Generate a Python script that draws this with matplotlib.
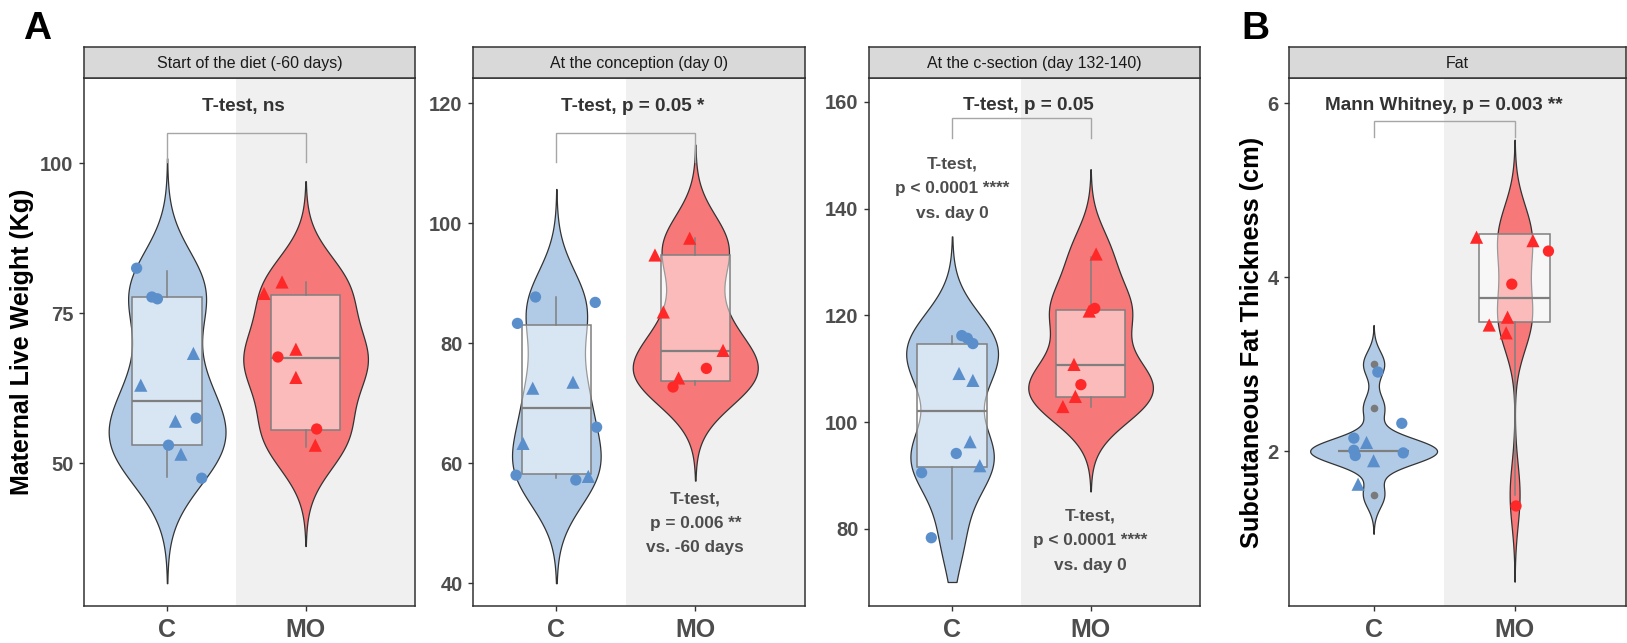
import numpy as np
import matplotlib
matplotlib.use("Agg")
import matplotlib.pyplot as plt

plt.rcParams['font.family'] = ['Liberation Sans', 'DejaVu Sans']

W, H, DPI = 1627, 643, 100

categories = ['C', 'MO']

# ---------------- Panel A1 : Start of the diet (-60 days)
start_c_vals = [82.5, 77.7, 77.4, 68.3, 63.0, 57.0, 57.5, 53.0, 51.5, 47.5]
start_c_shape = ['o', 'o', 'o', '^', '^', '^', 'o', 'o', '^', 'o']
start_c_jit = [-0.22, -0.11, -0.07, 0.19, -0.19, 0.06, 0.21, 0.01, 0.10, 0.25]
start_mo_vals = [80.2, 78.3, 69.0, 67.7, 64.3, 55.7, 53.0]
start_mo_shape = ['^', '^', '^', 'o', '^', 'o', '^']
start_mo_jit = [-0.17, -0.30, -0.07, -0.20, -0.07, 0.08, 0.07]
start_c_box = [47.7, 53.0, 60.3, 77.7, 82.0]     # whislo, q1, med, q3, whishi
start_mo_box = [52.7, 55.5, 67.5, 78.0, 80.2]

# ---------------- Panel A2 : At the conception (day 0)
concep_c_vals = [87.7, 86.8, 83.3, 72.5, 73.5, 66.0, 63.3, 58.0, 57.2, 57.8]
concep_c_shape = ['o', 'o', 'o', '^', '^', 'o', '^', 'o', 'o', '^']
concep_c_jit = [-0.15, 0.28, -0.28, -0.17, 0.12, 0.29, -0.24, -0.29, 0.14, 0.23]
concep_mo_vals = [97.5, 94.7, 85.2, 78.8, 75.8, 74.2, 72.7]
concep_mo_shape = ['^', '^', '^', '^', 'o', '^', 'o']
concep_mo_jit = [-0.04, -0.29, -0.23, 0.20, 0.08, -0.12, -0.16]
concep_c_box = [57.5, 58.2, 69.2, 83.0, 87.7]
concep_mo_box = [73.0, 73.7, 78.7, 94.7, 97.5]

# ---------------- Panel A3 : At the c-section (day 132-140)
csec_c_vals = [116.2, 115.7, 114.7, 109.1, 107.8, 96.3, 94.1, 91.8, 90.5, 78.3]
csec_c_shape = ['o', 'o', 'o', '^', '^', '^', 'o', '^', 'o', 'o']
csec_c_jit = [0.07, 0.11, 0.15, 0.05, 0.15, 0.13, 0.03, 0.20, -0.22, -0.15]
csec_mo_vals = [131.5, 121.3, 120.8, 110.8, 107.0, 104.8, 102.9]
csec_mo_shape = ['^', 'o', '^', '^', 'o', '^', '^']
csec_mo_jit = [0.04, 0.03, -0.01, -0.12, -0.07, -0.11, -0.20]
csec_c_box = [78.1, 91.5, 102.0, 114.6, 116.1]
csec_mo_box = [102.9, 104.6, 110.6, 121.0, 131.0]

# ---------------- Panel B : Fat
fat_c_vals = [3.0, 2.5, 2.0, 2.0, 2.0, 2.0, 2.0, 2.0, 1.5]
fat_c_shape = ['o', 'o', 'o', '^', 'o', 'o', 'o', '^', '^']
fat_c_jit = [0.03, 0.20, -0.14, -0.05, -0.14, -0.13, 0.21, 0.00, -0.11]
fat_c_jity = [-0.09, -0.18, 0.15, 0.10, 0.01, -0.05, -0.02, -0.11, 0.12]
fat_mo_vals = [4.5, 4.5, 4.5, 4.0, 3.5, 3.5, 3.5, 1.5]
fat_mo_shape = ['^', '^', 'o', 'o', '^', '^', '^', 'o']
fat_mo_jit = [-0.27, 0.13, 0.24, -0.02, -0.05, -0.18, -0.06, 0.01]
fat_mo_jity = [-0.04, -0.08, -0.20, -0.08, 0.04, -0.05, -0.14, -0.13]
fat_c_box = [2.0, 2.0, 2.0, 2.0, 2.0]
fat_c_outliers = [3.0, 2.5, 1.5]
fat_mo_box = [1.5, 3.48, 3.76, 4.5, 4.5]

# ---------------- styling
C_VIOLIN, MO_VIOLIN = '#B1CBE6', '#F77878'
C_POINT, MO_POINT = '#5B8FCB', '#FF2828'
BOX_EDGE = '#7F7F7F'
TXT = '#333333'
TICK_TXT = '#4D4D4D'

fig = plt.figure(figsize=(W / DPI, H / DPI), dpi=DPI)


def fx(px):
    return px / W


def fy(py):
    return 1 - py / H


def kde(vals, bw, lo_clip):
    v = np.asarray(vals, float)
    y = np.linspace(v.min() - 3 * bw, v.max() + 3 * bw, 512)
    y = np.clip(y, lo_clip, None)
    y = np.unique(y)
    d = np.exp(-0.5 * ((y[:, None] - v[None, :]) / bw) ** 2).sum(1) / (len(v) * bw * np.sqrt(2 * np.pi))
    return y, d


def panel(px, strip_title, ylim, yticks, clip, groups, bws, title, title_y, title_x,
          bracket, notes, fliers=None):
    left, right = px
    top, bottom, strip_top = 78, 606, 47
    ax = fig.add_axes([fx(left), fy(bottom), fx(right - left), (bottom - top) / H])
    ax.set_xlim(0.4, 2.79)
    ax.set_ylim(*ylim)
    ax.set_facecolor('white')
    ax.axvspan(1.5, 2.79, color='#F0F0F0', zorder=0, lw=0)

    # violins (density estimated from the data)
    dens = []
    for (vals, *_rest), bw in zip(groups, bws):
        dens.append(kde(vals, bw, clip))
    dmax = max(d.max() for _, d in dens)
    for i, ((y, d), col) in enumerate(zip(dens, [C_VIOLIN, MO_VIOLIN])):
        half = 0.45 * d / dmax
        ax.fill_betweenx(y, i + 1 - half, i + 1 + half, facecolor=col,
                         edgecolor='#333333', linewidth=0.9, zorder=2)

    # boxes
    stats = []
    for i, (vals, jit, jity, shapes, box) in enumerate(groups):
        st = dict(whislo=box[0], q1=box[1], med=box[2], q3=box[3], whishi=box[4],
                  fliers=np.array(fliers if (fliers is not None and i == 0) else []))
        stats.append(st)
    ax.bxp(stats, positions=[1, 2], widths=0.5, patch_artist=True, showcaps=False,
           boxprops=dict(facecolor=(1, 1, 1, 0.5), edgecolor=BOX_EDGE, linewidth=1.1),
           medianprops=dict(color=BOX_EDGE, linewidth=1.6),
           whiskerprops=dict(color=BOX_EDGE, linewidth=1.1),
           flierprops=dict(marker='o', markerfacecolor='#7A7A7A', markeredgecolor='none',
                           markersize=5.5),
           manage_ticks=False, zorder=3)

    # jittered points
    for i, ((vals, jit, jity, shapes, box), col) in enumerate(zip(groups, [C_POINT, MO_POINT])):
        vals = np.asarray(vals, float)
        jit = np.asarray(jit, float)
        jy = np.zeros_like(vals) if jity is None else np.asarray(jity, float)
        shapes = np.asarray(shapes)
        for m, s in (('o', 66), ('^', 90)):
            sel = shapes == m
            ax.scatter(i + 1 + jit[sel], vals[sel] + jy[sel], marker=m, s=s, color=col,
                       edgecolors='none', zorder=4)

    # comparison bracket + title
    b_lo, b_hi = bracket
    ax.plot([1, 1, 2, 2], [b_lo, b_hi, b_hi, b_lo], color='#A6A6A6', lw=1.0, zorder=5,
            solid_joinstyle='miter')
    ax.text(title_x, title_y, title, ha='center', va='center', fontsize=13.6,
            fontweight='bold', color=TXT, zorder=6)
    for (x, y, s) in notes:
        ax.text(x, y, s, ha='center', va='center', fontsize=12.4, fontweight='bold',
                color='#4D4D4D', linespacing=1.8, multialignment='center', zorder=6)

    ax.set_xticks([1, 2])
    ax.set_xticklabels(categories)
    ax.set_yticks(yticks)
    ax.set_yticklabels([str(t) for t in yticks])
    ax.tick_params(axis='both', direction='out', length=3.5, width=1.0, color='#333333',
                   labelcolor=TICK_TXT)
    ax.tick_params(axis='y', labelsize=14.5, pad=4)
    ax.tick_params(axis='x', labelsize=18, pad=5)
    for lab in ax.get_xticklabels() + ax.get_yticklabels():
        lab.set_fontweight('bold')
    for sp in ax.spines.values():
        sp.set_color('#333333')
        sp.set_linewidth(1.1)

    # strip
    sax = fig.add_axes([fx(left), fy(top), fx(right - left), (top - strip_top) / H])
    sax.set_facecolor('#D9D9D9')
    sax.set_xticks([])
    sax.set_yticks([])
    for sp in sax.spines.values():
        sp.set_color('#333333')
        sp.set_linewidth(1.1)
    sax.text(0.5, 0.48, strip_title, ha='center', va='center', fontsize=11.5,
             color='#1A1A1A', transform=sax.transAxes)
    return ax


note_006 = 'T-test,\np = 0.006 **\nvs. -60 days'
note_0001 = 'T-test,\np < 0.0001 ****\nvs. day 0'

panel((84, 415), 'Start of the diet (-60 days)', (26.2, 114.2), [50, 75, 100], 30,
      [(start_c_vals, start_c_jit, None, start_c_shape, start_c_box),
       (start_mo_vals, start_mo_jit, None, start_mo_shape, start_mo_box)],
      [6.1, 5.6], 'T-test, ns', 109.5, 1.55, (100.2, 105.0), [])

panel((473, 805), 'At the conception (day 0)', (36.2, 124.2), [40, 60, 80, 100, 120], 40,
      [(concep_c_vals, concep_c_jit, None, concep_c_shape, concep_c_box),
       (concep_mo_vals, concep_mo_jit, None, concep_mo_shape, concep_mo_box)],
      [6.0, 5.2], 'T-test, p = 0.05 *', 119.5, 1.55, (110.2, 115.0),
      [(2.0, 50.0, note_006)])

panel((869, 1200), 'At the c-section (day 132-140)', (65.5, 164.5), [80, 100, 120, 140, 160], 70,
      [(csec_c_vals, csec_c_jit, None, csec_c_shape, csec_c_box),
       (csec_mo_vals, csec_mo_jit, None, csec_mo_shape, csec_mo_box)],
      [6.2, 5.3], 'T-test, p = 0.05', 159.4, 1.55, (153.2, 157.0),
      [(1.0, 143.7, note_0001), (2.0, 77.7, note_0001)])

panel((1289, 1626), 'Fat', (0.22, 6.29), [2, 4, 6], 0.5,
      [(fat_c_vals, fat_c_jit, fat_c_jity, fat_c_shape, fat_c_box),
       (fat_mo_vals, fat_mo_jit, fat_mo_jity, fat_mo_shape, fat_mo_box)],
      [0.15, 0.36], 'Mann Whitney, p = 0.003 **', 5.97, 1.5, (5.61, 5.79), [],
      fliers=fat_c_outliers)

fig.text(fx(22), fy(342), 'Maternal Live Weight (Kg)', rotation=90, ha='center', va='center',
         fontsize=18, fontweight='bold', color='black')
fig.text(fx(1252), fy(342), 'Subcutaneous Fat Thickness (cm)', rotation=90, ha='center',
         va='center', fontsize=18.3, fontweight='bold', color='black')
fig.text(fx(37), fy(29), 'A', ha='center', va='center', fontsize=28, fontweight='bold')
fig.text(fx(1255), fy(29), 'B', ha='center', va='center', fontsize=28, fontweight='bold')

fig.savefig('out.png', dpi=DPI)
